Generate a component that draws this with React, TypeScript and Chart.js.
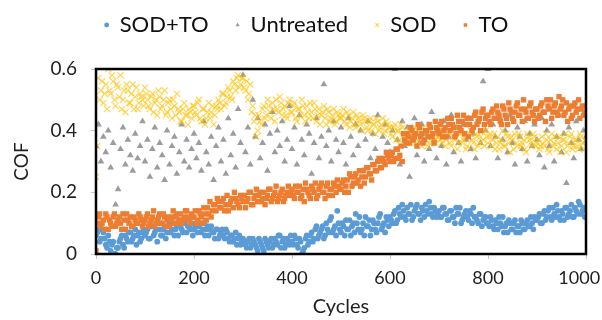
import { useEffect, useRef } from "react";
import { Chart, registerables } from "chart.js";

Chart.register(...registerables);

// Readings every 5 cycles (0, 5, ... 1000) plus a second set in between (2.5, 7.5, ... 997.5)
const CYCLE_STEP = 5;
const HALF_STEP = 2.5;

const SOD_TO = [
  0.06, 0.08, 0.05, 0.07, 0.03, 0.06, 0.01, 0.04, 0.0, 0.02, 0.05, 0.03, 0.06, 0.04, 0.07, 0.05, 0.08, 0.06, 0.04, 0.07,
  0.06, 0.08, 0.05, 0.09, 0.07, 0.04, 0.08, 0.06, 0.09, 0.07, 0.1, 0.08, 0.06, 0.09, 0.11, 0.08, 0.1, 0.07, 0.09, 0.1,
  0.08, 0.1, 0.09, 0.07, 0.1, 0.08, 0.06, 0.09, 0.07, 0.08, 0.05, 0.07, 0.06, 0.08, 0.05, 0.06, 0.04, 0.07, 0.05, 0.03,
  0.05, 0.03, 0.04, 0.02, 0.05, 0.03, 0.01, 0.04, 0.02, 0.05, 0.03, 0.04, 0.02, 0.05, 0.03, 0.06, 0.04, 0.02, 0.05, 0.03,
  0.04, 0.06, 0.03, 0.05, 0.0, 0.02, 0.06, 0.04, 0.07, 0.05, 0.09, 0.06, 0.08, 0.05, 0.1, 0.07, 0.12, 0.08, 0.06, 0.1,
  0.07, 0.09, 0.11, 0.08, 0.06, 0.1, 0.13, 0.08, 0.07, 0.1, 0.12, 0.09, 0.06, 0.11, 0.08, 0.1, 0.13, 0.09, 0.07, 0.11,
  0.12, 0.1, 0.14, 0.11, 0.13, 0.16, 0.12, 0.15, 0.13, 0.11, 0.14, 0.16, 0.13, 0.15, 0.12, 0.14, 0.17, 0.13, 0.15, 0.12,
  0.14, 0.12, 0.15, 0.13, 0.11, 0.14, 0.12, 0.15, 0.13, 0.1, 0.12, 0.14, 0.11, 0.13, 0.15, 0.12, 0.1, 0.13, 0.11, 0.12,
  0.1, 0.12, 0.09, 0.11, 0.08, 0.1, 0.12, 0.09, 0.07, 0.1, 0.08, 0.11, 0.09, 0.07, 0.1, 0.08, 0.11, 0.09, 0.1, 0.12,
  0.11, 0.13, 0.1, 0.14, 0.12, 0.15, 0.11, 0.13, 0.16, 0.12, 0.14, 0.11, 0.15, 0.13, 0.16, 0.12, 0.14, 0.17, 0.13, 0.15,
  0.14,
];
const SOD_TO_MID = [
  0.07, 0.04, 0.08, 0.05, 0.02, 0.04, 0.03, 0.0, 0.02, 0.04, 0.06, 0.02, 0.05, 0.07, 0.04, 0.06, 0.03, 0.07, 0.05, 0.08,
  0.07, 0.05, 0.09, 0.06, 0.08, 0.1, 0.06, 0.08, 0.05, 0.09, 0.07, 0.1, 0.08, 0.06, 0.09, 0.07, 0.11, 0.09, 0.08, 0.06,
  0.09, 0.07, 0.1, 0.08, 0.06, 0.09, 0.08, 0.07, 0.05, 0.08, 0.06, 0.08, 0.05, 0.07, 0.04, 0.06, 0.05, 0.03, 0.06, 0.04,
  0.04, 0.02, 0.05, 0.03, 0.04, 0.02, 0.05, 0.03, 0.01, 0.04, 0.02, 0.05, 0.03, 0.04, 0.06, 0.02, 0.05, 0.03, 0.04, 0.06,
  0.03, 0.05, 0.02, 0.04, 0.01, 0.05, 0.03, 0.06, 0.04, 0.08, 0.05, 0.07, 0.09, 0.06, 0.08, 0.11, 0.07, 0.09, 0.14, 0.08,
  0.1, 0.06, 0.08, 0.11, 0.09, 0.07, 0.1, 0.12, 0.08, 0.06, 0.09, 0.11, 0.08, 0.1, 0.07, 0.12, 0.08, 0.1, 0.12, 0.09,
  0.11, 0.13, 0.1, 0.15, 0.12, 0.14, 0.11, 0.13, 0.16, 0.12, 0.15, 0.13, 0.11, 0.14, 0.16, 0.13, 0.15, 0.12, 0.14, 0.13,
  0.12, 0.15, 0.13, 0.11, 0.14, 0.12, 0.1, 0.13, 0.15, 0.11, 0.13, 0.12, 0.14, 0.1, 0.12, 0.11, 0.13, 0.09, 0.12, 0.1,
  0.09, 0.11, 0.08, 0.1, 0.12, 0.09, 0.07, 0.1, 0.11, 0.08, 0.1, 0.07, 0.09, 0.11, 0.08, 0.1, 0.09, 0.12, 0.08, 0.11,
  0.12, 0.1, 0.13, 0.11, 0.14, 0.12, 0.15, 0.12, 0.14, 0.11, 0.13, 0.15, 0.12, 0.14, 0.12, 0.15, 0.13, 0.16, 0.14, 0.12,
];

const UNTREATED = [
  0.35, 0.42, 0.3, 0.38, 0.33, 0.4, 0.28, 0.36, 0.16, 0.21, 0.34, 0.41, 0.29, 0.37, 0.32, 0.27, 0.39, 0.31, 0.35, 0.43,
  0.3, 0.37, 0.25, 0.34, 0.41, 0.28, 0.36, 0.32, 0.24, 0.4, 0.29, 0.35, 0.38, 0.26, 0.33, 0.42, 0.3, 0.37, 0.28, 0.34,
  0.39, 0.31, 0.36, 0.27, 0.43, 0.33, 0.29, 0.38, 0.24, 0.35, 0.41, 0.3, 0.37, 0.26, 0.44, 0.32, 0.39, 0.28, 0.47, 0.36,
  0.58, 0.33, 0.41, 0.29, 0.5, 0.38, 0.44, 0.31, 0.36, 0.42, 0.27, 0.39, 0.46, 0.33, 0.4, 0.35, 0.43, 0.3, 0.37, 0.48,
  0.34, 0.41, 0.29, 0.45, 0.37, 0.32, 0.42, 0.39, 0.26, 0.36, 0.44, 0.31, 0.38, 0.55, 0.35, 0.4, 0.3, 0.43, 0.37, 0.33,
  0.41, 0.36, 0.29, 0.44, 0.38, 0.32, 0.42, 0.35, 0.4, 0.27, 0.37, 0.43, 0.31, 0.39, 0.34, 0.45, 0.3, 0.38, 0.42, 0.36,
  0.33, 0.4, 0.6, 0.37, 0.29, 0.43, 0.35, 0.41, 0.25, 0.38, 0.44, 0.32, 0.36, 0.42, 0.3, 0.39, 0.34, 0.46, 0.37, 0.31,
  0.4, 0.35, 0.43, 0.29, 0.38, 0.45, 0.33, 0.41, 0.36, 0.3, 0.42, 0.37, 0.44, 0.34, 0.39, 0.31, 0.43, 0.36, 0.56, 0.4,
  0.6, 0.35, 0.42, 0.38, 0.31, 0.44, 0.37, 0.4, 0.33, 0.45, 0.36, 0.29, 0.41, 0.38, 0.34, 0.43, 0.3, 0.39, 0.35, 0.42,
  0.37, 0.32, 0.44, 0.28, 0.4, 0.35, 0.42, 0.3, 0.38, 0.45, 0.33, 0.39, 0.23, 0.41, 0.36, 0.31, 0.43, 0.37, 0.34, 0.4,
  0.38,
];

const SOD = [
  0.25, 0.57, 0.53, 0.49, 0.55, 0.6, 0.52, 0.56, 0.48, 0.54, 0.58, 0.5, 0.46, 0.53, 0.49, 0.55, 0.51, 0.47, 0.52, 0.5,
  0.54, 0.5, 0.47, 0.52, 0.49, 0.45, 0.51, 0.48, 0.53, 0.46, 0.5, 0.44, 0.48, 0.52, 0.46, 0.43, 0.49, 0.45, 0.47, 0.44,
  0.48, 0.45, 0.5, 0.43, 0.47, 0.44, 0.49, 0.46, 0.42, 0.48, 0.5, 0.47, 0.52, 0.49, 0.54, 0.51, 0.56, 0.53, 0.58, 0.55,
  0.57, 0.53, 0.5, 0.55, 0.48, 0.45, 0.4, 0.43, 0.47, 0.44, 0.5, 0.46, 0.49, 0.43, 0.47, 0.51, 0.45, 0.48, 0.44, 0.5,
  0.46, 0.49, 0.43, 0.47, 0.5, 0.45, 0.48, 0.44, 0.46, 0.49, 0.43, 0.47, 0.45, 0.48, 0.42, 0.46, 0.44, 0.47, 0.43, 0.45,
  0.44, 0.47, 0.42, 0.45, 0.43, 0.46, 0.41, 0.44, 0.42, 0.45, 0.43, 0.4, 0.44, 0.42, 0.39, 0.43, 0.41, 0.44, 0.4, 0.42,
  0.41, 0.38, 0.42, 0.4, 0.37, 0.41, 0.39, 0.36, 0.4, 0.38, 0.41, 0.37, 0.39, 0.35, 0.4, 0.38, 0.36, 0.39, 0.37, 0.4,
  0.38, 0.36, 0.4, 0.37, 0.39, 0.35, 0.38, 0.41, 0.36, 0.39, 0.37, 0.34, 0.38, 0.4, 0.36, 0.39, 0.35, 0.38, 0.37, 0.4,
  0.36, 0.39, 0.37, 0.34, 0.38, 0.36, 0.4, 0.35, 0.38, 0.33, 0.37, 0.39, 0.35, 0.38, 0.36, 0.34, 0.39, 0.37, 0.35, 0.38,
  0.36, 0.34, 0.38, 0.35, 0.37, 0.33, 0.39, 0.36, 0.34, 0.38, 0.35, 0.37, 0.33, 0.36, 0.39, 0.35, 0.37, 0.34, 0.38, 0.36,
  0.37,
];
const SOD_MID = [
  0.35, 0.5, 0.56, 0.52, 0.47, 0.53, 0.58, 0.5, 0.55, 0.51, 0.47, 0.53, 0.55, 0.49, 0.52, 0.47, 0.54, 0.49, 0.51, 0.48,
  0.52, 0.48, 0.51, 0.46, 0.5, 0.53, 0.47, 0.5, 0.45, 0.49, 0.47, 0.5, 0.45, 0.47, 0.43, 0.47, 0.45, 0.42, 0.46, 0.48,
  0.46, 0.49, 0.44, 0.47, 0.42, 0.46, 0.44, 0.48, 0.45, 0.47, 0.49, 0.52, 0.48, 0.51, 0.53, 0.5, 0.55, 0.57, 0.54, 0.57,
  0.54, 0.56, 0.52, 0.46, 0.43, 0.38, 0.45, 0.42, 0.48, 0.45, 0.48, 0.44, 0.47, 0.5, 0.46, 0.49, 0.47, 0.45, 0.49, 0.46,
  0.48, 0.44, 0.47, 0.45, 0.48, 0.43, 0.46, 0.49, 0.44, 0.47, 0.45, 0.42, 0.46, 0.44, 0.47, 0.43, 0.45, 0.42, 0.46, 0.44,
  0.45, 0.43, 0.46, 0.41, 0.44, 0.42, 0.45, 0.43, 0.4, 0.44, 0.41, 0.43, 0.4, 0.42, 0.44, 0.4, 0.42, 0.39, 0.43, 0.41,
  0.39, 0.41, 0.37, 0.4, 0.42, 0.38, 0.36, 0.4, 0.37, 0.39, 0.36, 0.4, 0.38, 0.41, 0.37, 0.35, 0.4, 0.38, 0.36, 0.38,
  0.37, 0.39, 0.35, 0.38, 0.36, 0.4, 0.37, 0.34, 0.39, 0.36, 0.38, 0.35, 0.39, 0.37, 0.34, 0.38, 0.36, 0.4, 0.35, 0.38,
  0.38, 0.35, 0.39, 0.36, 0.34, 0.37, 0.35, 0.39, 0.36, 0.38, 0.34, 0.36, 0.39, 0.35, 0.37, 0.33, 0.38, 0.36, 0.39, 0.35,
  0.37, 0.35, 0.36, 0.39, 0.34, 0.37, 0.35, 0.38, 0.36, 0.33, 0.37, 0.39, 0.35, 0.38, 0.34, 0.37, 0.35, 0.39, 0.36, 0.34,
];

const TO = [
  0.01, 0.12, 0.09, 0.11, 0.13, 0.08, 0.1, 0.12, 0.09, 0.11, 0.1, 0.13, 0.08, 0.11, 0.12, 0.09, 0.11, 0.1, 0.12, 0.09,
  0.11, 0.13, 0.1, 0.12, 0.09, 0.11, 0.13, 0.1, 0.12, 0.11, 0.09, 0.12, 0.1, 0.13, 0.11, 0.1, 0.12, 0.14, 0.11, 0.13,
  0.12, 0.1, 0.14, 0.12, 0.15, 0.11, 0.13, 0.12, 0.16, 0.14, 0.17, 0.15, 0.18, 0.16, 0.14, 0.17, 0.15, 0.18, 0.16, 0.19,
  0.17, 0.15, 0.18, 0.2, 0.16, 0.19, 0.17, 0.2, 0.18, 0.16, 0.19, 0.21, 0.18, 0.2, 0.17, 0.19, 0.21, 0.18, 0.2, 0.19,
  0.21, 0.18, 0.2, 0.22, 0.19, 0.17, 0.21, 0.19, 0.22, 0.2, 0.18, 0.21, 0.23, 0.2, 0.22, 0.19, 0.21, 0.23, 0.2, 0.22,
  0.21, 0.24, 0.22, 0.2, 0.25, 0.23, 0.26, 0.24, 0.22, 0.27, 0.25, 0.28, 0.26, 0.29, 0.27, 0.3, 0.28, 0.31, 0.29, 0.32,
  0.3, 0.33, 0.31, 0.34, 0.32, 0.3, 0.37, 0.39, 0.36, 0.4, 0.38, 0.35, 0.41, 0.39, 0.37, 0.4, 0.42, 0.38, 0.36, 0.41,
  0.39, 0.43, 0.4, 0.38, 0.42, 0.44, 0.41, 0.39, 0.43, 0.4, 0.45, 0.42, 0.38, 0.44, 0.41, 0.46, 0.43, 0.4, 0.47, 0.44,
  0.45, 0.42, 0.47, 0.44, 0.46, 0.43, 0.48, 0.45, 0.42, 0.47, 0.44, 0.46, 0.49, 0.45, 0.43, 0.47, 0.44, 0.48, 0.46, 0.43,
  0.47, 0.45, 0.49, 0.46, 0.5, 0.47, 0.44, 0.48, 0.46, 0.51, 0.48, 0.45, 0.49, 0.47, 0.44, 0.48, 0.46, 0.5, 0.47, 0.45,
  0.48,
];
const TO_MID = [
  0.1, 0.13, 0.1, 0.08, 0.12, 0.11, 0.09, 0.13, 0.1, 0.12, 0.08, 0.11, 0.13, 0.1, 0.09, 0.12, 0.1, 0.13, 0.11, 0.1,
  0.12, 0.09, 0.11, 0.14, 0.1, 0.12, 0.1, 0.13, 0.09, 0.12, 0.11, 0.14, 0.12, 0.1, 0.13, 0.11, 0.14, 0.12, 0.1, 0.12,
  0.14, 0.11, 0.13, 0.1, 0.13, 0.15, 0.17, 0.14, 0.16, 0.18, 0.15, 0.17, 0.14, 0.19, 0.16, 0.18, 0.2, 0.17, 0.15, 0.18,
  0.19, 0.17, 0.2, 0.16, 0.18, 0.21, 0.19, 0.17, 0.2, 0.18, 0.21, 0.17, 0.19, 0.22, 0.18, 0.2, 0.17, 0.19, 0.22, 0.2,
  0.19, 0.22, 0.2, 0.18, 0.21, 0.23, 0.2, 0.18, 0.21, 0.23, 0.19, 0.22, 0.2, 0.18, 0.23, 0.21, 0.19, 0.22, 0.24, 0.21,
  0.23, 0.2, 0.24, 0.26, 0.22, 0.25, 0.23, 0.27, 0.25, 0.23, 0.28, 0.26, 0.24, 0.29, 0.27, 0.31, 0.28, 0.3, 0.33, 0.31,
  0.32, 0.3, 0.34, 0.31, 0.35, 0.39, 0.36, 0.38, 0.41, 0.37, 0.39, 0.42, 0.38, 0.36, 0.4, 0.38, 0.41, 0.39, 0.43, 0.4,
  0.42, 0.38, 0.41, 0.44, 0.4, 0.42, 0.38, 0.45, 0.41, 0.43, 0.39, 0.44, 0.42, 0.4, 0.45, 0.42, 0.44, 0.46, 0.42, 0.45,
  0.43, 0.46, 0.44, 0.48, 0.45, 0.42, 0.47, 0.44, 0.49, 0.46, 0.43, 0.48, 0.45, 0.47, 0.5, 0.46, 0.44, 0.49, 0.45, 0.47,
  0.44, 0.48, 0.46, 0.43, 0.48, 0.5, 0.46, 0.49, 0.45, 0.47, 0.5, 0.46, 0.43, 0.48, 0.45, 0.49, 0.47, 0.44, 0.48, 0.46,
];

const X_TICKS = [0, 200, 400, 600, 800, 1000];
const Y_TICKS = [0, 0.2, 0.4, 0.6];

const FONT = "Lato";
const TEXT = "#1f1f1f";
const LEGEND_PAD = 27;

const toPoints = (vals: number[], mid: number[] = []) => [
  ...vals.map((y, i) => ({ x: i * CYCLE_STEP, y })),
  ...mid.map((y, i) => ({ x: i * CYCLE_STEP + HALF_STEP, y })),
];

const framePlugin = {
  id: "frame",
  afterLayout(chart: any) {
    // centre the legend row (Chart.js counts the trailing item padding in the row width)
    const lg = chart.legend;
    if (lg) {
      lg.left += LEGEND_PAD / 2;
      lg.right += LEGEND_PAD / 2;
    }
  },
  afterDraw(chart: any) {
    const { ctx, chartArea } = chart;
    const { left, top, right, bottom } = chartArea;
    ctx.save();
    ctx.strokeStyle = "#000";
    ctx.lineWidth = 2.5;
    ctx.strokeRect(left, top, right - left, bottom - top);
    ctx.restore();
  },
};

export default function App() {
  const ref = useRef<HTMLCanvasElement | null>(null);

  useEffect(() => {
    if (!ref.current) return;
    const chart = new Chart(ref.current, {
      type: "scatter",
      data: {
        datasets: [
          {
            label: "SOD+TO",
            data: toPoints(SOD_TO, SOD_TO_MID),
            pointStyle: "circle",
            pointRadius: 2.9,
            backgroundColor: "#5B9BD5",
            borderColor: "#5B9BD5",
            borderWidth: 0,
            order: 4,
          },
          {
            label: "Untreated",
            data: toPoints(UNTREATED),
            pointStyle: "triangle",
            pointRadius: 3.9,
            backgroundColor: "#9C9C9C",
            borderColor: "#9C9C9C",
            borderWidth: 0,
            order: 3,
          },
          {
            label: "SOD",
            data: toPoints(SOD, SOD_MID),
            pointStyle: "crossRot",
            pointRadius: 4.4,
            backgroundColor: "rgba(255,192,0,0.65)",
            borderColor: "rgba(255,192,0,0.65)",
            borderWidth: 1.2,
            order: 2,
          },
          {
            label: "TO",
            data: toPoints(TO, TO_MID),
            pointStyle: "rect",
            pointRadius: 3.8,
            backgroundColor: "#ED7D31",
            borderColor: "#ED7D31",
            borderWidth: 0,
            order: 1,
          },
        ],
      },
      options: {
        responsive: false,
        animation: false,
        events: [],
        layout: { padding: { left: 0, right: 16, top: 0, bottom: 0 } },
        plugins: {
          tooltip: { enabled: false },
          legend: {
            display: true,
            position: "top",
            labels: {
              usePointStyle: true,
              boxWidth: 4,
              boxHeight: 3.5,
              padding: LEGEND_PAD,
              color: "#111",
              font: { family: FONT, size: 22 },
              sort: (a: any, b: any) => a.datasetIndex - b.datasetIndex,
            },
          },
          title: {
            display: true,
            text: "",
            weight: 500,
            padding: { top: 0, bottom: 0 },
            font: { size: 23, lineHeight: 1 },
          },
        },
        scales: {
          x: {
            type: "linear",
            min: 0,
            max: 1000,
            afterBuildTicks: (s: any) => {
              s.ticks = X_TICKS.map((v) => ({ value: v }));
            },
            afterFit: (s: any) => {
              s.height = 66;
              s.paddingLeft = 0;
              s.paddingRight = 0;
            },
            grid: { drawOnChartArea: false, drawTicks: true, tickLength: 5, color: "#c8c8c8" },
            border: { display: false },
            ticks: {
              padding: 8,
              color: TEXT,
              maxRotation: 0,
              // the last label is nudged left so it stays on the page, as in the original
              callback: (v: any) => (v === 1000 ? "1000\u2002 " : String(v)),
              font: { family: FONT, size: 18 },
            },
            title: {
              display: true,
              text: "Cycles",
              color: TEXT,
              padding: { top: 0, bottom: 1 },
              font: { family: FONT, size: 20 },
            },
          },
          y: {
            type: "linear",
            min: 0,
            max: 0.6,
            afterBuildTicks: (s: any) => {
              s.ticks = Y_TICKS.map((v) => ({ value: v }));
            },
            afterFit: (s: any) => {
              s.width = 96;
            },
            grid: { drawOnChartArea: false, drawTicks: true, tickLength: 5, color: "#c8c8c8" },
            border: { display: false },
            ticks: {
              padding: 14,
              color: TEXT,
              callback: (v: any) => String(v),
              font: { family: FONT, size: 19 },
            },
            title: {
              display: true,
              text: "COF",
              color: TEXT,
              padding: { top: 10, bottom: 0 },
              font: { family: FONT, size: 19 },
            },
          },
        },
      },
      plugins: [framePlugin],
    });
    return () => chart.destroy();
  }, []);

  return (
    <div style={{ position: "absolute", left: 0, top: -13, width: 602, height: 333 }}>
      <canvas ref={ref} width={602} height={333} style={{ display: "block", width: 602, height: 333 }} />
    </div>
  );
}
